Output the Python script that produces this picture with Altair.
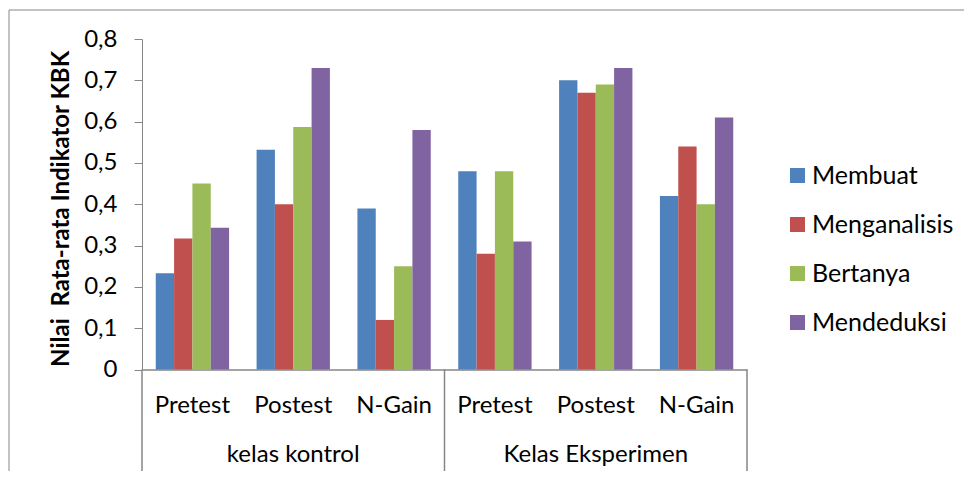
import altair as alt
import pandas as pd

groups = ["kelas kontrol"] * 3 + ["Kelas Eksperimen"] * 3
tests = ["Pretest", "Postest", "N-Gain", "Pretest", "Postest", "N-Gain"]
series = ["Membuat", "Menganalisis", "Bertanya", "Mendeduksi"]
membuat = [0.233, 0.532, 0.39, 0.48, 0.70, 0.42]
menganalisis = [0.317, 0.40, 0.12, 0.28, 0.67, 0.54]
bertanya = [0.45, 0.587, 0.25, 0.48, 0.69, 0.40]
mendeduksi = [0.343, 0.73, 0.58, 0.31, 0.73, 0.61]
colors = ["#4F81BD", "#C0504D", "#9BBB59", "#8064A2"]
y_ticks = [0, 0.1, 0.2, 0.3, 0.4, 0.5, 0.6, 0.7, 0.8]
y_title = "Nilai\u00a0 Rata-rata Indikator KBK"

keys = [f"{g}|{t}" for g, t in zip(groups, tests)]
values_by_series = [membuat, menganalisis, bertanya, mendeduksi]

rows = []
for s, vals in zip(series, values_by_series):
    for k, g, t, v in zip(keys, groups, tests, vals):
        rows.append({"key": k, "group": g, "test": t, "series": s, "value": v})
df = pd.DataFrame(rows)
cat_df = pd.DataFrame({"key": keys, "group": groups, "test": tests})

FONT = "Lato"
FS = 24
GRAY = "#868686"
W, H = 605, 330.5

xscale = alt.Scale(domain=keys, paddingInner=0, paddingOuter=0)

bars = alt.Chart(df).mark_bar().encode(
    x=alt.X("key:N", scale=xscale, sort=keys,
            axis=alt.Axis(labels=False, ticks=False, title=None, domainColor=GRAY,
                          domainWidth=1.5)),
    xOffset=alt.XOffset("series:N", sort=series,
                        scale=alt.Scale(domain=series, paddingInner=0, paddingOuter=0.75)),
    y=alt.Y("value:Q", scale=alt.Scale(domain=[0, 0.8], nice=False),
            axis=alt.Axis(values=y_ticks, grid=False, title=y_title,
                          labelExpr="datum.value == 0 ? '0' : replace(format(datum.value, '.1f'), '.', ',')",
                          labelFont=FONT, labelFontSize=FS, labelColor="#000000",
                          labelPadding=17, tickSize=8, tickColor=GRAY, domainColor=GRAY,
                          titleFont=FONT, titleFontSize=24, titleFontWeight="bold",
                          titleColor="#000000", titleX=-81, titleY=169.4,
                          titleAngle=270, titleBaseline="middle", titleAlign="center")),
    color=alt.Color("series:N", sort=series,
                    scale=alt.Scale(domain=series, range=colors),
                    legend=alt.Legend(title=None, orient="none", legendX=643, legendY=124,
                                      labelFont=FONT, labelFontSize=25, labelColor="#000000",
                                      symbolType="square", symbolSize=225, symbolStrokeWidth=0,
                                      rowPadding=23, labelOffset=2, padding=0)),
)

test_labels = alt.Chart(cat_df).mark_text(font=FONT, fontSize=FS, baseline="alphabetic",
                                          color="#000000").encode(
    x=alt.X("key:N", scale=xscale, sort=keys, bandPosition=0.5),
    y=alt.value(373.7),
    text="test:N",
)

group_df = cat_df[cat_df["test"] == "Postest"]
group_labels = alt.Chart(group_df).mark_text(font=FONT, fontSize=FS, baseline="alphabetic",
                                             color="#000000").encode(
    x=alt.X("key:N", scale=xscale, sort=keys, bandPosition=0.5),
    y=alt.value(422.7),
    text="group:N",
)

start_df = cat_df[cat_df["test"] == "Pretest"]
sep_start = alt.Chart(start_df).mark_rule(color=GRAY, strokeWidth=1.5).encode(
    x=alt.X("key:N", scale=xscale, sort=keys, bandPosition=0),
    y=alt.value(H),
    y2=alt.value(H + 120),
)
end_df = cat_df.tail(1)
sep_end = alt.Chart(end_df).mark_rule(color=GRAY, strokeWidth=1.5).encode(
    x=alt.X("key:N", scale=xscale, sort=keys, bandPosition=0.9999),
    y=alt.value(H),
    y2=alt.value(H + 120),
)

border = alt.Chart(pd.DataFrame({"a": [0]})).mark_rect(
    fillOpacity=0, stroke=GRAY, strokeWidth=1).encode(
    x=alt.value(-133), x2=alt.value(900), y=alt.value(-29), y2=alt.value(600),
)

chart = alt.layer(border, bars, sep_start, sep_end, test_labels, group_labels).properties(
    width=W, height=H,
    background="white",
    autosize=alt.AutoSizeParams(type="none"),
    padding={"left": 134, "top": 31, "right": 217, "bottom": 101.5},
).configure_view(stroke=None)

chart.save("out.html", embed_options={"renderer": "svg", "actions": False})
